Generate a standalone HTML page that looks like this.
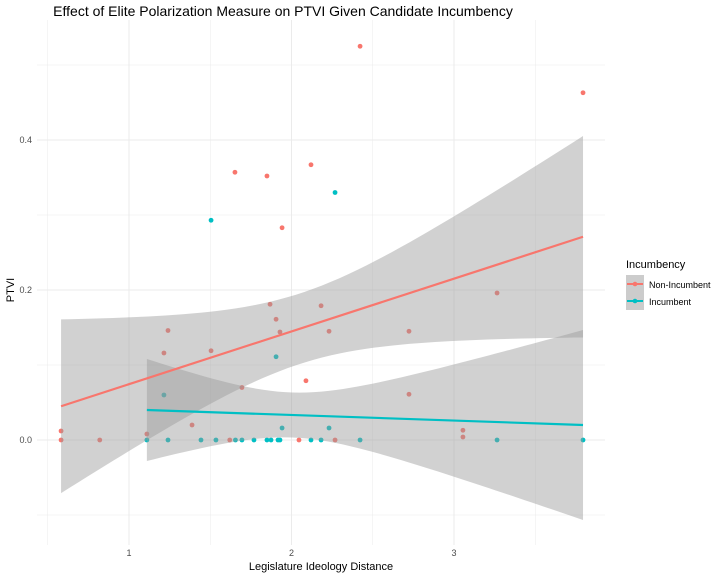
<!DOCTYPE html>
<html><head><meta charset="utf-8"><style>
body{margin:0;background:#fff;font-family:"Liberation Sans",sans-serif}
svg text{font-family:"Liberation Sans",sans-serif}
</style></head><body>
<svg id="chart" width="720" height="576" viewBox="0 0 720 576" xmlns="http://www.w3.org/2000/svg">
<rect width="720" height="576" fill="#fff"/>
<text x="283" y="16" font-size="14" text-anchor="middle" fill="#000">Effect of Elite Polarization Measure on PTVI Given Candidate Incumbency</text>
<g id="grid"></g><g id="points"></g><g id="bands"></g><g id="lines"></g><g id="axes"></g>
<text x="321" y="570" font-size="11" text-anchor="middle">Legislature Ideology Distance</text>
<text transform="translate(14,290) rotate(-90)" font-size="11" text-anchor="middle">PTVI</text>
<g>
<text x="626" y="268" font-size="11">Incumbency</text>
<rect x="626" y="275" width="18" height="35" fill="#cccccc"/>
<g><line x1="627" y1="284" x2="643" y2="284" stroke="#F8766D" stroke-width="2"/><circle cx="635" cy="284" r="2.3" fill="#F8766D"/><text x="649" y="288" font-size="9">Non-Incumbent</text></g>
<g><line x1="627" y1="301" x2="643" y2="301" stroke="#00BFC4" stroke-width="2"/><circle cx="635" cy="301" r="2.3" fill="#00BFC4"/><text x="649" y="305" font-size="9">Incumbent</text></g>
</g>
</svg>
<script>
const redX=[0.582,0.582,0.82,1.11,1.215,1.24,1.388,1.505,1.62,1.652,1.695,1.849,1.868,1.905,1.929,1.942,2.046,2.089,2.12,2.182,2.231,2.268,2.422,2.723,2.723,3.055,3.055,3.265,3.794];
const redY=[0.012,0,0,0.008,0.116,0.146,0.02,0.119,0,0.357,0.07,0.352,0.181,0.161,0.144,0.283,0,0.079,0.367,0.179,0.145,0,0.525,0.145,0.061,0.013,0.004,0.196,0.463];
const tealX=[1.505,1.215,1.905,1.942,2.231,2.268,1.11,1.24,1.443,1.535,1.655,1.695,1.769,1.849,1.874,1.917,1.929,2.12,2.182,2.422,3.265,3.794];
const tealY=[0.293,0.06,0.111,0.016,0.016,0.33,0,0,0,0,0,0,0,0,0,0,0,0,0,0,0,0];
const redFit=[0.582,0.045,3.794,0.271];
const tealFit=[1.11,0.040,3.794,0.020];
const xTicks=[1,2,3];const yTicks=[0,0.2,0.4];const yTickLabels=["0.0","0.2","0.4"];
const X=v=>129+(v-1)*162.5, Y=v=>440-v*750;
const NS="http://www.w3.org/2000/svg";
function mk(t,a,p){const e=document.createElementNS(NS,t);for(const k in a)e.setAttribute(k,a[k]);document.getElementById(p).appendChild(e);return e;}
[0.5,1,1.5,2,2.5,3,3.5].forEach(v=>{const l=mk('line',{x1:X(v),x2:X(v),y1:20,y2:545,stroke:'#ebebeb','stroke-width':Number.isInteger(v)?1:0.5},'grid');

});
[-0.1,0,0.1,0.2,0.3,0.4,0.5].forEach(v=>{const l=mk('line',{x1:37,x2:605,y1:Y(v),y2:Y(v),stroke:'#ebebeb','stroke-width':Math.abs(v*10%2)<0.01?1:0.5},'grid');

});
xTicks.forEach(v=>{const t=mk('text',{x:X(v),y:556,'font-size':9,fill:'#4d4d4d','text-anchor':'middle'},'axes');t.textContent=v;

});
yTicks.forEach((v,i)=>{const t=mk('text',{x:32,y:Y(v)+3,'font-size':9,fill:'#4d4d4d','text-anchor':'end'},'axes');t.textContent=yTickLabels[i];

});
function band(fit,xm,h0,k,name){const [x0,y0,x1,y1]=fit;const up=[],lo=[];
for(let i=0;i<=60;i++){const x=x0+(x1-x0)*i/60;const y=y0+(y1-y0)*(x-x0)/(x1-x0);const h=Math.sqrt(h0*h0+k*(x-xm)*(x-xm));up.push(X(x)+','+Y(y+h));lo.unshift(X(x)+','+Y(y-h));}
const p=mk('polygon',{points:up.concat(lo).join(' '),fill:'#999','fill-opacity':0.45},'bands');

}
band(redFit,2.05,0.047,0.0052,'non-incumbent-confidence-band');
band(tealFit,2.0,0.03,0.0047,'incumbent-confidence-band');
function fitLine(f,c,name){const l=mk('line',{x1:X(f[0]),y1:Y(f[1]),x2:X(f[2]),y2:Y(f[3]),stroke:c,'stroke-width':2.2},'lines');

}
fitLine(redFit,'#F8766D','non-incumbent-fit-line');
fitLine(tealFit,'#00BFC4','incumbent-fit-line');
redX.forEach((x,i)=>{const c=mk('circle',{cx:X(x),cy:Y(redY[i]),r:2.4,fill:'#F8766D'},'points');

});
tealX.forEach((x,i)=>{const c=mk('circle',{cx:X(x),cy:Y(tealY[i]),r:2.4,fill:'#00BFC4'},'points');

});
</script>
</body></html>
